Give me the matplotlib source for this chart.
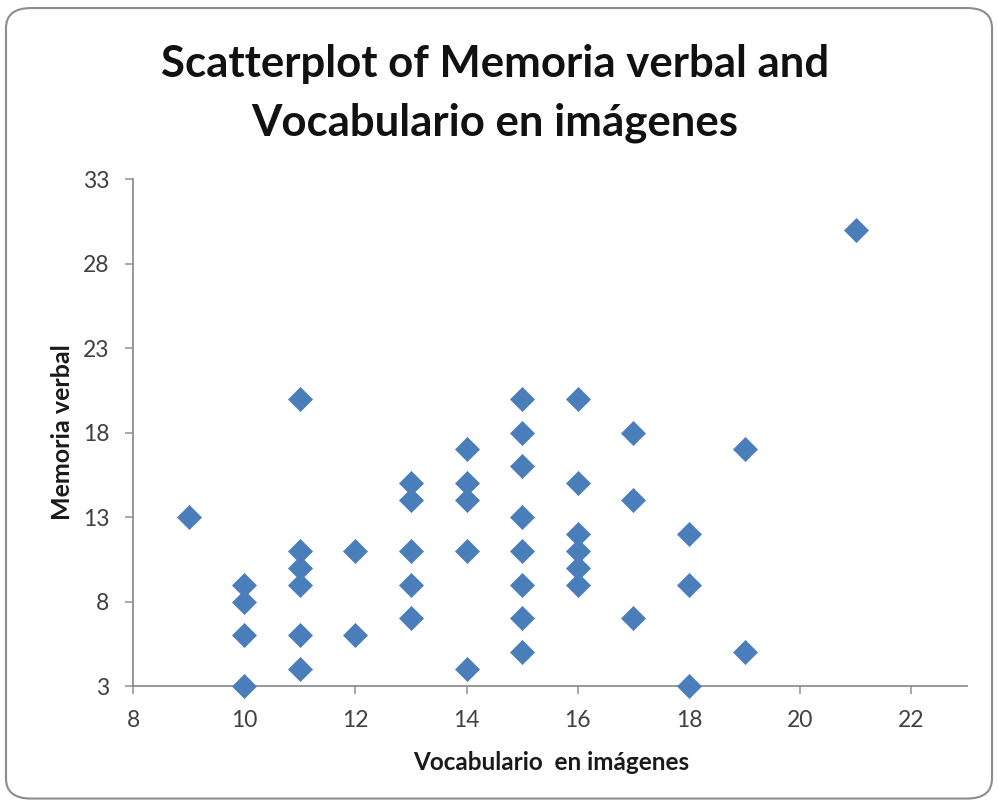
import matplotlib
matplotlib.use("Agg")
import matplotlib.pyplot as plt
from matplotlib.patches import FancyBboxPatch

plt.rcParams['font.family'] = ['Lato', 'DejaVu Sans']

vocab = [9,
         10, 10, 10, 10,
         11, 11, 11, 11, 11, 11,
         12, 12,
         13, 13, 13, 13, 13,
         14, 14, 14, 14, 14,
         15, 15, 15, 15, 15, 15, 15, 15,
         16, 16, 16, 16, 16, 16,
         17, 17, 17,
         18, 18, 18,
         19, 19,
         21]
memoria = [13,
           9, 8, 6, 3,
           20, 11, 10, 9, 6, 4,
           11, 6,
           15, 14, 11, 9, 7,
           17, 15, 14, 11, 4,
           20, 18, 16, 13, 11, 9, 7, 5,
           20, 15, 12, 11, 10, 9,
           18, 14, 7,
           12, 9, 3,
           17, 5,
           30]
x_ticks = [8, 10, 12, 14, 16, 18, 20, 22]
y_ticks = [3, 8, 13, 18, 23, 28, 33]

title = "Scatterplot of Memoria verbal and\nVocabulario en imágenes"
xlabel = "Vocabulario  en imágenes"
ylabel = "Memoria verbal"

fig = plt.figure(figsize=(9.98, 8.05), dpi=100)
fig.patch.set_facecolor('white')

frame = FancyBboxPatch((0.006, 0.008), 0.988, 0.982,
                       boxstyle="round,pad=0,rounding_size=0.025",
                       transform=fig.transFigure, facecolor='none',
                       edgecolor='#8c8c8c', linewidth=1.5, zorder=-1)
fig.patches.append(frame)

ax = fig.add_axes([0.1333, 0.1478, 0.8357, 0.6298])
ax.set_facecolor('none')
ax.scatter(vocab, memoria, marker='D', s=150, color='#4A7EBB',
           edgecolors='#4A7EBB', linewidths=0.5, zorder=3, clip_on=False)

ax.set_xlim(8, 23)
ax.set_ylim(3, 33)
ax.set_xticks(x_ticks)
ax.set_yticks(y_ticks)
for s in ['top', 'right']:
    ax.spines[s].set_visible(False)
for s in ['left', 'bottom']:
    ax.spines[s].set_color('#868686')
    ax.spines[s].set_linewidth(1.2)
ax.tick_params(axis='both', colors='#9a9a9a', length=6, width=1.2,
               labelcolor='#404040', labelsize=16.5)
ax.tick_params(axis='x', pad=11)
ax.tick_params(axis='y', pad=11)

ax.set_xlabel(xlabel, fontsize=17.5, fontweight='bold', color='#1a1a1a')
ax.set_ylabel(ylabel, fontsize=18, fontweight='bold', color='#1a1a1a')
ax.xaxis.set_label_coords(0.501, -0.150)
ax.xaxis.label.set_va('center')
ax.yaxis.set_label_coords(-0.0851, 0.501)
ax.yaxis.label.set_va('center')

fig.text(0.496, 0.884, title, ha='center', va='center', fontsize=31.5,
         fontweight='bold', color='#111111', linespacing=1.55)

fig.savefig('out.png', dpi=100, facecolor='white')
